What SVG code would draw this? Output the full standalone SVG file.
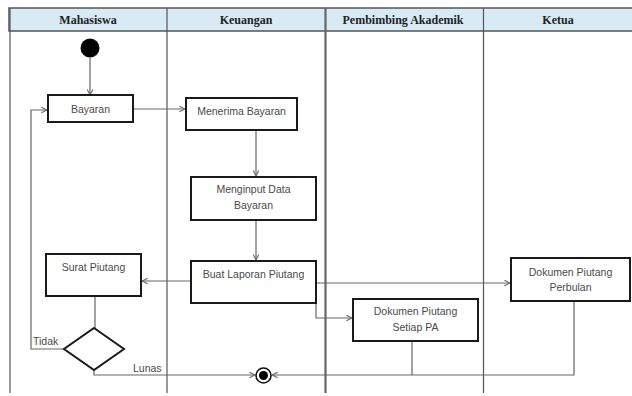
<svg xmlns="http://www.w3.org/2000/svg" width="632" height="396" viewBox="0 0 632 396">
  <style>
    .lane { stroke: #555; stroke-width: 1.2; fill: none; }
    .head { fill: #d8ebf4; stroke: #555; stroke-width: 1.5; }
    .htxt { font-family: "Liberation Serif", serif; font-weight: bold; font-size: 12px; fill: #222; text-anchor: middle; }
    .box { fill: #fff; stroke: #1a1a1a; stroke-width: 2; }
    .txt { font-family: "Liberation Sans", sans-serif; font-size: 10.5px; fill: #4a4a4a; text-anchor: middle; }
    .lbl { font-family: "Liberation Sans", sans-serif; font-size: 10.5px; fill: #4a4a4a; }
    .flow { stroke: #666; stroke-width: 1.2; fill: none; }
    .arr { marker-end: url(#tip); }
  </style>
  <defs>
    <marker id="tip" viewBox="0 0 10 10" refX="9" refY="5" markerWidth="7" markerHeight="7" markerUnits="userSpaceOnUse" orient="auto">
      <path d="M1,1 L9,5 L1,9" fill="none" stroke="#666" stroke-width="1.5"/>
    </marker>
  </defs>

  <rect width="632" height="396" fill="#fff"/>

  <!-- swimlanes -->
  <g id="lanes">
    <rect class="head" x="9" y="8" width="630" height="23"/>
    <line class="lane" x1="10" y1="8" x2="10" y2="393"/>
    <line class="lane" x1="167" y1="8" x2="167" y2="393"/>
    <line x1="325.5" y1="8" x2="325.5" y2="393" stroke="#666" stroke-width="2.2"/>
    <line class="lane" x1="483.5" y1="8" x2="483.5" y2="393"/>
    <text class="htxt" x="88" y="23.5">Mahasiswa</text>
    <text class="htxt" x="246" y="23.5">Keuangan</text>
    <text class="htxt" x="403" y="23.5">Pembimbing Akademik</text>
    <text class="htxt" x="558" y="23.5">Ketua</text>
  </g>

  <!-- connectors -->
  <g id="connectors">
    <path class="flow arr" d="M90,58 V95"/>
    <path class="flow arr" d="M134,109 H185"/>
    <path class="flow arr" d="M256,131 V176"/>
    <path class="flow arr" d="M256,221 V260"/>
    <path class="flow arr" d="M190,281 H142"/>
    <path class="flow arr" d="M316,283 H510"/>
    <path class="flow arr" d="M316,290 V318 H352"/>
    <path class="flow" d="M95,297 V328"/>
    <path class="flow arr" d="M64,349 H31 V110 H47"/>
    <path class="flow arr" d="M94,370 V375 H255"/>
    <path class="flow arr" d="M574,302 V375 H272"/>
    <path class="flow" d="M412,342 V375"/>
  </g>

  <!-- nodes -->
  <g id="start">
    <circle cx="90" cy="48" r="9.5" fill="#000"/>
  </g>
  <g id="bayaran">
    <rect class="box" x="48" y="95" width="85" height="27"/>
    <text class="txt" x="90.5" y="112.5">Bayaran</text>
  </g>
  <g id="menerima-bayaran">
    <rect class="box" x="186" y="98" width="111" height="32"/>
    <text class="txt" x="241.5" y="114.5">Menerima Bayaran</text>
  </g>
  <g id="menginput-data">
    <rect class="box" x="191" y="177" width="125" height="43"/>
    <text class="txt" x="253.5" y="192.5">Menginput Data</text>
    <text class="txt" x="253.5" y="208.5">Bayaran</text>
  </g>
  <g id="buat-laporan">
    <rect class="box" x="191" y="261" width="125" height="42"/>
    <text class="txt" x="253.5" y="277.5">Buat Laporan Piutang</text>
  </g>
  <g id="surat-piutang">
    <rect class="box" x="46" y="254" width="95" height="42"/>
    <text class="txt" x="93.5" y="270.5">Surat Piutang</text>
  </g>
  <g id="dokumen-pa">
    <rect class="box" x="353" y="299" width="125" height="42"/>
    <text class="txt" x="415.5" y="314.5">Dokumen Piutang</text>
    <text class="txt" x="415.5" y="330.5">Setiap PA</text>
  </g>
  <g id="dokumen-ketua">
    <rect class="box" x="511" y="258" width="119" height="43"/>
    <text class="txt" x="570.5" y="275.5">Dokumen Piutang</text>
    <text class="txt" x="570.5" y="290.5">Perbulan</text>
  </g>
  <g id="keputusan">
    <polygon points="94,328 124,349 94,370 64,349" fill="#fff" stroke="#1a1a1a" stroke-width="2"/>
    <text class="lbl" x="33" y="345">Tidak</text>
    <text class="lbl" x="133" y="372">Lunas</text>
  </g>
  <g id="end">
    <circle cx="263.5" cy="375.5" r="7.5" fill="#fff" stroke="#111" stroke-width="1.6"/>
    <circle cx="263.5" cy="375.5" r="4.5" fill="#000"/>
  </g>
</svg>
